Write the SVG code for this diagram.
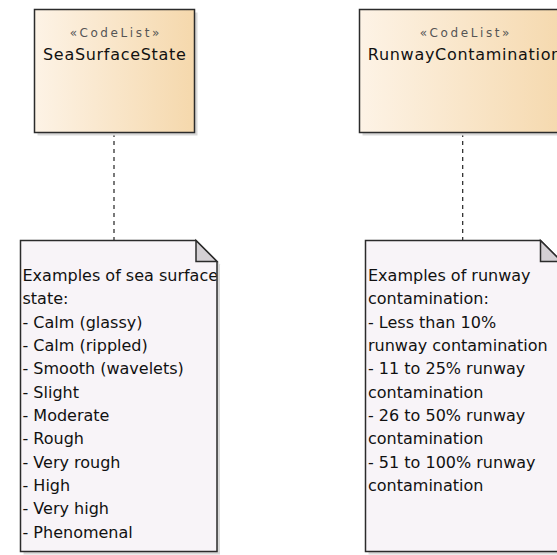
<svg xmlns="http://www.w3.org/2000/svg" width="557" height="555" viewBox="0 0 557 555">
<style>
.cls{stroke:#2b2b2b;stroke-width:1.5}
.shadow{fill:#d9d9d9}
.stereo{font-family:"DejaVu Sans",sans-serif;font-size:12px;letter-spacing:2.6px;fill:#555;text-anchor:middle}
.name{font-family:"DejaVu Sans",sans-serif;font-size:16px;letter-spacing:0.7px;fill:#111;text-anchor:middle}
.note{fill:#f8f4f8;stroke:#2b2b2b;stroke-width:1.5}
.fold{fill:#d4d0d4;stroke:#2b2b2b;stroke-width:1.5;stroke-linejoin:miter}
.body{font-family:"DejaVu Sans",sans-serif;font-size:16px;fill:#111}
.conn{stroke:#222;stroke-width:1.2;stroke-dasharray:4 4;fill:none}
</style>
<defs>
<linearGradient id="g" x1="0" y1="0" x2="1" y2="0">
<stop offset="0" stop-color="#fdf3e6"/>
<stop offset="1" stop-color="#f5d8ac"/>
</linearGradient>
<clipPath id="c1"><rect x="21" y="241" width="195.5" height="310"/></clipPath>
<clipPath id="c2"><rect x="366" y="241" width="195" height="310"/></clipPath>
</defs>
<g id="connectors">
<line class="conn" x1="114" y1="133" x2="114" y2="240"/>
<line class="conn" x1="462.7" y1="133" x2="462.7" y2="240"/>
</g>
<g id="SeaSurfaceState">
<rect class="shadow" x="37.5" y="12.5" width="160" height="123"/>
<rect class="cls" x="34.5" y="9.5" width="160" height="123" fill="url(#g)"/>
<text class="stereo" x="115.8" y="36.5">«CodeList»</text>
<text class="name" x="114.8" y="60">SeaSurfaceState</text>
</g>
<g id="RunwayContamination">
<rect class="shadow" x="362.5" y="12.5" width="210" height="123"/>
<rect class="cls" x="359.5" y="9.5" width="210" height="123" fill="url(#g)"/>
<text class="stereo" x="465.9" y="36.5">«CodeList»</text>
<text class="name" x="464.9" y="60">RunwayContamination</text>
</g>
<g id="note1">
<path class="shadow" d="M23.5,243.5 H199 L220,264.5 V554.5 H23.5 Z"/>
<path class="note" d="M20.5,240.5 H196 L217,261.5 V551.5 H20.5 Z"/>
<path class="fold" d="M196,240.5 V261.5 H217 Z"/>
<g clip-path="url(#c1)">
<text class="body" x="22.5" y="281">Examples of sea surface</text>
<text class="body" x="22.5" y="304.3">state:</text>
<text class="body" x="22.5" y="327.7">- Calm (glassy)</text>
<text class="body" x="22.5" y="351">- Calm (rippled)</text>
<text class="body" x="22.5" y="374.3">- Smooth (wavelets)</text>
<text class="body" x="22.5" y="397.7">- Slight</text>
<text class="body" x="22.5" y="421">- Moderate</text>
<text class="body" x="22.5" y="444.3">- Rough</text>
<text class="body" x="22.5" y="467.7">- Very rough</text>
<text class="body" x="22.5" y="491">- High</text>
<text class="body" x="22.5" y="514.3">- Very high</text>
<text class="body" x="22.5" y="537.7">- Phenomenal</text>
</g>
</g>
<g id="note2">
<path class="shadow" d="M368.5,243.5 H543.5 L564.5,264.5 V554.5 H368.5 Z"/>
<path class="note" d="M365.5,240.5 H540.5 L561.5,261.5 V551.5 H365.5 Z"/>
<path class="fold" d="M540.5,240.5 V261.5 H561.5 Z"/>
<g clip-path="url(#c2)">
<text class="body" x="368" y="281">Examples of runway</text>
<text class="body" x="368" y="304.3">contamination:</text>
<text class="body" x="368" y="327.7">- Less than 10%</text>
<text class="body" x="368" y="351">runway contamination</text>
<text class="body" x="368" y="374.3">- 11 to 25% runway</text>
<text class="body" x="368" y="397.7">contamination</text>
<text class="body" x="368" y="421">- 26 to 50% runway</text>
<text class="body" x="368" y="444.3">contamination</text>
<text class="body" x="368" y="467.7">- 51 to 100% runway</text>
<text class="body" x="368" y="491">contamination</text>
</g>
</g>
</svg>
